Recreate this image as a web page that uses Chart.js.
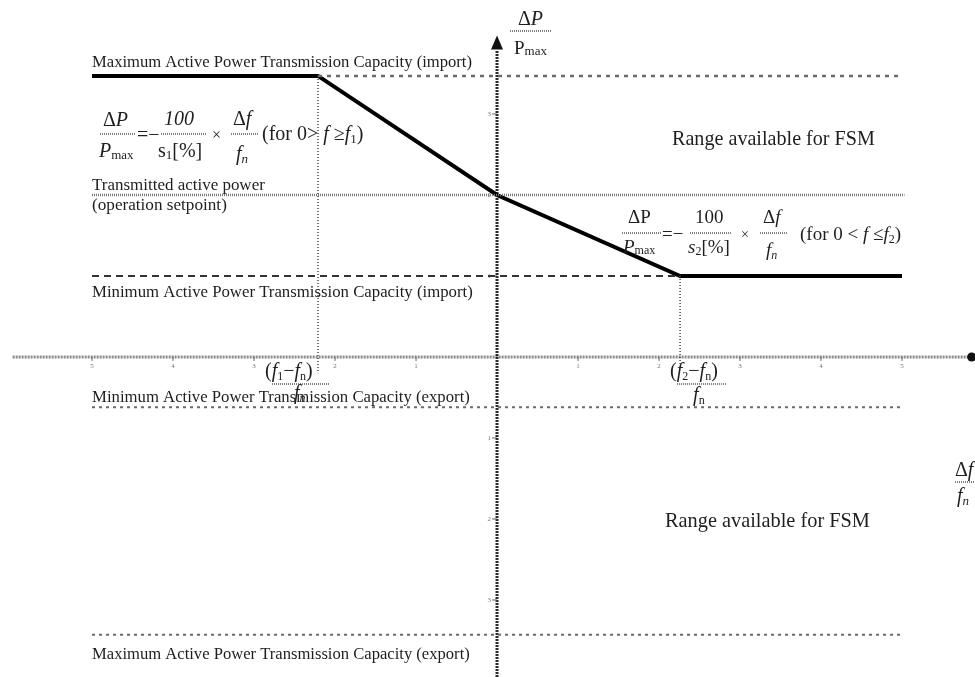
<!DOCTYPE html>
<html>
<head>
<meta charset="utf-8">
<script src="https://cdn.jsdelivr.net/npm/chart.js@4.4.0/dist/chart.umd.min.js"></script>
<style>
    html, body { margin: 0; padding: 0; background: #ffffff; }
    #wrap { width: 975px; height: 677px; }
</style>
</head>
<body>
<div id="wrap"><canvas id="fsm" width="975" height="677"></canvas></div>
<script>
// Axis units: x = Δf/fn, y = ΔP/Pmax (schematic units)
const xTicks = [ -5, -4, -3, -2, -1, 1, 2, 3, 4, 5 ];
const yTicks = [ -3, -2, -1, 1, 2, 3 ];
const xSpan = [ -5, 5 ];

// droop characteristic corner points
const f1 = -2.21;
const f2 = 2.26;
const droopX = [ -5, f1, 0, f2, 5 ];
const droopY = [ 3.47, 3.47, 2, 1, 1 ];

// capacity / setpoint levels
const maxImport = 3.47;
const setpoint = 2;
const minImport = 1;
const minExport = -0.62;
const maxExport = -3.43;

const SERIF = '"Liberation Serif", "DejaVu Serif", serif';
const INK = '#1e1e1e';

function seg ( x0, y0, x1, y1 )
{
    return [ { x: x0, y: y0 }, { x: x1, y: y1 } ];
}

function lineSet ( data, color, width, dash )
{
    return {
        data: data,
        showLine: true,
        borderColor: color,
        borderWidth: width,
        borderDash: dash,
        pointRadius: 0,
        fill: false,
        tension: 0
    };
}

// Draw a run of text pieces: [ text, size, style, dy ]
function rich ( ctx, parts, x, y )
{
    let cx = x;
    parts.forEach( p =>
    {
        ctx.font = `${ p[ 2 ] || '' } ${ p[ 1 ] }px ${ SERIF }`;
        ctx.fillText( p[ 0 ], cx, y + ( p[ 3 ] || 0 ) );
        cx += ctx.measureText( p[ 0 ] ).width;
    } );
    return cx;
}

// Text stretched to a given width
function fit ( ctx, txt, x, y, w, style )
{
    ctx.font = `${ style || '' } 20px ${ SERIF }`;
    const size = 20 * w / ctx.measureText( txt ).width;
    ctx.font = `${ style || '' } ${ size }px ${ SERIF }`;
    ctx.fillText( txt, x, y );
}

function bar ( ctx, x0, x1, y )
{
    ctx.save();
    ctx.strokeStyle = '#555';
    ctx.lineWidth = 1.5;
    ctx.setLineDash( [ 1, 1 ] );
    ctx.beginPath();
    ctx.moveTo( x0, y );
    ctx.lineTo( x1, y );
    ctx.stroke();
    ctx.restore();
}

const axesPlugin = {
    id: 'axes',
    beforeDatasetsDraw ( chart )
    {
        const ctx = chart.ctx;
        const xs = chart.scales.x;
        const ys = chart.scales.y;
        const x0 = xs.getPixelForValue( 0 );
        const y0 = ys.getPixelForValue( 0 );

        ctx.save();
        // horizontal axis
        ctx.strokeStyle = '#8a8a8a';
        ctx.lineWidth = 3;
        ctx.setLineDash( [ 2, 1 ] );
        ctx.beginPath();
        ctx.moveTo( xs.getPixelForValue( -5.98 ), y0 );
        ctx.lineTo( xs.getPixelForValue( 5.84 ), y0 );
        ctx.stroke();

        // vertical axis
        ctx.strokeStyle = '#2a2a2a';
        ctx.beginPath();
        ctx.moveTo( x0, ys.getPixelForValue( -3.95 ) );
        ctx.lineTo( x0, ys.getPixelForValue( 3.78 ) );
        ctx.stroke();
        ctx.setLineDash( [] );

        // arrow head and end dot
        const tip = ys.getPixelForValue( 3.97 );
        ctx.fillStyle = '#111';
        ctx.beginPath();
        ctx.moveTo( x0, tip );
        ctx.lineTo( x0 - 6, tip + 14 );
        ctx.lineTo( x0 + 6, tip + 14 );
        ctx.closePath();
        ctx.fill();
        ctx.beginPath();
        ctx.arc( xs.getPixelForValue( 5.86 ), y0, 4.5, 0, Math.PI * 2 );
        ctx.fill();

        // small ticks
        ctx.strokeStyle = '#666';
        ctx.lineWidth = 1;
        ctx.fillStyle = '#777';
        ctx.font = `7px ${ SERIF }`;
        ctx.textAlign = 'center';
        xTicks.forEach( v =>
        {
            const px = xs.getPixelForValue( v );
            ctx.beginPath();
            ctx.moveTo( px, y0 );
            ctx.lineTo( px, y0 + 4 );
            ctx.stroke();
            ctx.fillText( String( Math.abs( v ) ), px, y0 + 11 );
        } );
        ctx.textAlign = 'right';
        yTicks.forEach( v =>
        {
            const py = ys.getPixelForValue( v );
            ctx.beginPath();
            ctx.moveTo( x0 - 5, py );
            ctx.lineTo( x0, py );
            ctx.stroke();
            ctx.fillText( String( Math.abs( v ) ), x0 - 6, py + 2 );
        } );
        ctx.restore();
    }
};

const textPlugin = {
    id: 'labels',
    afterDraw ( chart )
    {
        const ctx = chart.ctx;
        const xs = chart.scales.x;
        const ys = chart.scales.y;
        const left = xs.getPixelForValue( xSpan[ 0 ] );
        const yp = v => ys.getPixelForValue( v );

        ctx.save();
        ctx.fillStyle = INK;
        ctx.textAlign = 'left';
        ctx.textBaseline = 'alphabetic';

        // level captions
        fit( ctx, 'Maximum Active Power Transmission Capacity (import)', left, yp( maxImport ) - 9, 380 );
        fit( ctx, 'Transmitted active power', left, yp( setpoint ) - 5, 173 );
        fit( ctx, '(operation setpoint)', left, yp( setpoint ) + 15, 135 );
        fit( ctx, 'Minimum Active Power Transmission Capacity (import)', left, yp( minImport ) + 21, 381 );
        fit( ctx, 'Minimum Active Power Transmission Capacity (export)', left, yp( minExport ) - 5, 378 );
        fit( ctx, 'Maximum Active Power Transmission Capacity (export)', left, yp( maxExport ) + 24, 378 );

        fit( ctx, 'Range available for FSM', 672, 145, 203 );
        fit( ctx, 'Range available for FSM', 665, 527, 205 );

        // y axis title
        rich( ctx, [ [ 'Δ', 20 ], [ 'P', 20, 'italic' ] ], 518, 25 );
        bar( ctx, 510, 552, 31 );
        rich( ctx, [ [ 'P', 19 ], [ 'max', 13, '', 1 ] ], 514, 54 );

        // x axis title (runs off the right edge)
        rich( ctx, [ [ 'Δ', 20 ], [ 'f', 20, 'italic' ] ], 955, 476 );
        bar( ctx, 955, 975, 482 );
        rich( ctx, [ [ 'f', 20, 'italic' ], [ 'n', 13, 'italic', 3 ] ], 957, 502 );

        // first droop formula
        rich( ctx, [ [ 'Δ', 20 ], [ 'P', 20, 'italic' ] ], 103, 126 );
        bar( ctx, 100, 136, 134 );
        rich( ctx, [ [ 'P', 20, 'italic' ], [ 'max', 13, '', 2 ] ], 99, 157 );
        rich( ctx, [ [ '=−', 20 ] ], 137, 141 );
        rich( ctx, [ [ '100', 20, 'italic' ] ], 164, 125 );
        bar( ctx, 161, 206, 134 );
        rich( ctx, [ [ 's', 20 ], [ '1', 13, '', 2 ], [ '[%]', 20 ] ], 158, 157 );
        rich( ctx, [ [ '×', 16 ] ], 212, 140 );
        rich( ctx, [ [ 'Δ', 20 ], [ 'f', 20, 'italic' ] ], 233, 125 );
        bar( ctx, 231, 258, 134 );
        rich( ctx, [ [ 'f', 20, 'italic' ], [ 'n', 13, 'italic', 3 ] ], 236, 160 );
        rich( ctx, [ [ '(for 0', 20 ], [ '> ', 20 ], [ 'f', 20, 'italic' ], [ ' ≥', 20 ],
            [ 'f', 20, 'italic' ], [ '1', 13, '', 3 ], [ ')', 20 ] ], 262, 140 );

        // second droop formula
        rich( ctx, [ [ 'ΔP', 19 ] ], 628, 223 );
        bar( ctx, 622, 662, 233 );
        rich( ctx, [ [ 'P', 19, 'italic' ], [ 'max', 12, '', 1 ] ], 623, 253 );
        rich( ctx, [ [ '=−', 19 ] ], 662, 240 );
        rich( ctx, [ [ '100', 19 ] ], 695, 223 );
        bar( ctx, 690, 732, 233 );
        rich( ctx, [ [ 's', 19, 'italic' ], [ '2', 12, '', 2 ], [ '[%]', 19 ] ], 688, 253 );
        rich( ctx, [ [ '×', 14 ] ], 741, 239 );
        rich( ctx, [ [ 'Δ', 19 ], [ 'f', 19, 'italic' ] ], 763, 223 );
        bar( ctx, 760, 787, 233 );
        rich( ctx, [ [ 'f', 19, 'italic' ], [ 'n', 12, 'italic', 3 ] ], 766, 256 );
        rich( ctx, [ [ '(for 0 < ', 19 ], [ 'f', 19, 'italic' ], [ ' ≤', 19 ],
            [ 'f', 19, 'italic' ], [ '2', 12, '', 3 ], [ ')', 19 ] ], 800, 240 );

        // f1 and f2 markers under the axis
        const pf1 = xs.getPixelForValue( f1 );
        const pf2 = xs.getPixelForValue( f2 );
        rich( ctx, [ [ '(', 20 ], [ 'f', 20, 'italic' ], [ '1', 12, '', 3 ], [ '−', 20 ],
            [ 'f', 20, 'italic' ], [ 'n', 12, '', 3 ], [ ')', 20 ] ], pf1 - 53, 377 );
        bar( ctx, pf1 - 46, pf1 + 12, 384 );
        rich( ctx, [ [ 'f', 20, 'italic' ], [ 'n', 12, 'italic', 3 ] ], pf1 - 24, 399 );

        rich( ctx, [ [ '(', 20 ], [ 'f', 20, 'italic' ], [ '2', 12, '', 3 ], [ '−', 20 ],
            [ 'f', 20, 'italic' ], [ 'n', 12, '', 3 ], [ ')', 20 ] ], pf2 - 10, 377 );
        bar( ctx, pf2 - 3, pf2 + 47, 384 );
        rich( ctx, [ [ 'f', 20, 'italic' ], [ 'n', 12, '', 3 ] ], pf2 + 13, 401 );

        ctx.restore();
    }
};

new Chart( document.getElementById( 'fsm' ).getContext( '2d' ), {
    type: 'scatter',
    data: {
        datasets: [
            lineSet( seg( f1, maxImport, xSpan[ 1 ], maxImport ), '#6a6a6a', 2.5, [ 4, 5 ] ),
            lineSet( seg( xSpan[ 0 ], setpoint, xSpan[ 1 ] + 0.03, setpoint ), '#7a7a7a', 2.5, [ 1, 1 ] ),
            lineSet( seg( xSpan[ 0 ], minImport, f2, minImport ), '#333333', 2, [ 7, 5 ] ),
            lineSet( seg( xSpan[ 0 ], minExport, xSpan[ 1 ], minExport ), '#6a6a6a', 2, [ 3, 4 ] ),
            lineSet( seg( xSpan[ 0 ], maxExport, xSpan[ 1 ], maxExport ), '#6a6a6a', 2, [ 3, 4 ] ),
            lineSet( seg( f1, maxImport, f1, -0.2 ), '#444444', 1.5, [ 1, 2 ] ),
            lineSet( seg( f2, minImport, f2, -0.1 ), '#444444', 1.5, [ 1, 2 ] ),
            lineSet( droopX.map( ( x, i ) => ( { x: x, y: droopY[ i ] } ) ), '#000000', 4, [] )
        ]
    },
    options: {
        responsive: false,
        animation: false,
        layout: { padding: 0 },
        plugins: {
            legend: { display: false },
            tooltip: { enabled: false }
        },
        scales: {
            x: { type: 'linear', display: false, min: -6.136, max: 5.901 },
            y: { type: 'linear', display: false, min: -3.951, max: 4.407 }
        }
    },
    plugins: [ axesPlugin, textPlugin ]
} );
</script>
</body>
</html>
